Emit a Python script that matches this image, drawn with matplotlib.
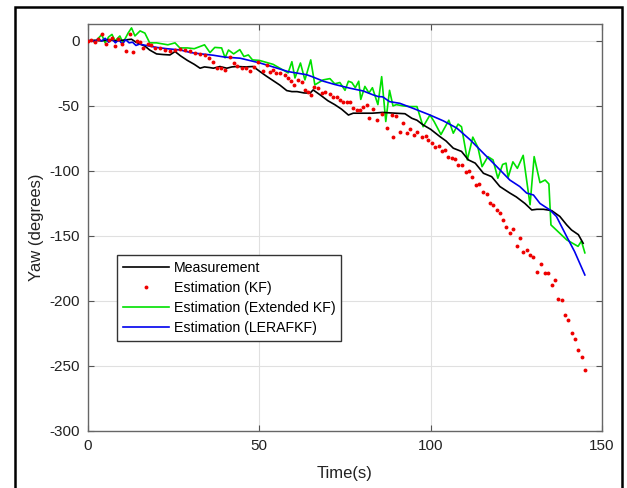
import matplotlib
matplotlib.use("Agg")
import matplotlib.pyplot as plt
from matplotlib.patches import Rectangle

plt.rcParams['font.family'] = ['Liberation Sans', 'DejaVu Sans']
plt.rcParams['axes.unicode_minus'] = False

# ---------------- data ----------------
meas_t = [0, 2, 4, 6, 8, 10, 12.7, 14, 16.6, 18, 20, 22, 23.9, 25.4, 27, 29, 31, 32.7, 34, 35.5,
          36.6, 38.5, 40.5, 42, 43.4, 46, 48.2, 50.2, 52, 54, 56, 58, 59.5, 61, 63, 64.8, 65.7, 68,
          70, 72, 74, 76, 77.4, 80, 83, 86, 89, 92.5, 94.5, 96, 97.8, 100, 102.7, 104.5, 106.6, 109,
          111, 113, 115.4, 117.8, 120.2, 123.1, 125, 127.5, 129.5, 131, 132.9, 135.3, 137.7, 139.7,
          141.1, 143.1, 144.5]
meas_y = [0, 0.5, 0, 1, 0, 0.5, 1.3, -1, -4, -7, -10, -10.5, -10.8, -8.2, -11.5, -15, -18, -21, -20,
          -20.5, -21, -19.7, -21, -20, -19.7, -20, -19.7, -23.6, -27, -30.5, -34, -38.2, -39, -39, -40,
          -40.2, -37.7, -42, -46, -49, -52.5, -57, -55.6, -55.6, -55.6, -55, -55.5, -56, -59.5, -61,
          -64.6, -68, -73.6, -77, -82.5, -85, -91.5, -94, -101.8, -104.4, -112, -117, -120, -125, -130,
          -129.5, -129.5, -130.5, -135, -141.5, -145.4, -149, -155.6]

kf_t = [0, 1, 2, 3, 4, 5.2, 6, 7, 8, 8.8, 10, 11.2, 12.2, 13.1, 14.2, 15.2, 16.1, 17.5, 18.5, 19.5,
        21, 22.5, 23.9, 25.4, 26.8, 28.3, 29.8, 31.2, 32.7, 34.1, 35.3, 36.4, 37.6, 38.8, 40, 41.4,
        42.5, 43.4, 44.8, 46, 47.3, 48.5, 49.7, 51, 52.1, 53, 54.1, 55, 56, 57.5, 58.4, 59.2, 60.1,
        61.4, 62.4, 63.3, 64.3, 65.2, 65.9, 67.2, 68.2, 69.2, 70.6, 71.6, 72.6, 73.6, 74.5, 75.5,
        76.5, 77.2, 78.4, 79.4, 80.3, 81.3, 82.1, 83.1, 84.2, 85.7, 87.2, 88.6, 89.1, 90, 91, 92,
        93.1, 94.1, 95, 95.9, 97.4, 98.6, 99.3, 100.3, 101.3, 102.5, 103.2, 104.2, 105.1, 106.1,
        107.1, 108.1, 109, 110.3, 111.3, 112.2, 113.2, 114.2, 115.4, 116.3, 117.3, 118.3, 119.3,
        120.2, 121.2, 122.1, 123.1, 124.1, 125.1, 126.1, 127, 128, 129, 130, 130.9, 132.1, 133.4,
        134.3, 135.3, 136.3, 137.2, 138.2, 139.2, 140.2, 141.1, 142.1, 143.1, 144.1, 145]
kf_y = [0, 0.5, -0.5, 1.5, 5, -2.3, 1, 2, -4.2, 1.5, -2, -7.5, 5, -8.6, 0, -0.6, -5.5, -2, -3.5, -5.4,
        -5.4, -6.7, -8, -6.7, -6, -6.7, -8, -9.2, -10, -10.5, -13, -16, -20.5, -21, -22, -12.6,
        -17, -19.3, -20.5, -21, -23.3, -20, -15.9, -23, -18.8, -24, -22.3, -25, -25, -26, -28.7, -31,
        -33.8, -30, -31.3, -38, -39.5, -41.5, -35.5, -36, -40, -39, -41, -43.5, -43.5, -45.5, -46.7,
        -46.7, -47, -51.5, -53, -53, -50.5, -49, -59.5, -52, -60.8, -56, -67, -57, -74, -57.5, -70,
        -63, -71, -67.5, -72, -69.7, -73.6, -73, -76, -78.7, -81.3, -80.8, -84.6, -83.8, -89, -90.3,
        -91, -95.4, -95.4, -100.5, -99.7, -104.8, -110.8, -110.3, -115.9, -117.7, -124.4, -126.2,
        -130, -132.6, -137.7, -143, -148, -145, -158, -151.8, -162, -160.8, -164.6, -166, -177.5,
        -171.5, -178.7, -178.7, -187.7, -183.8, -198.7, -199, -210.8, -214.6, -224.4, -229.5,
        -237.7, -243.3, -253]

ekf_t = [0, 1, 2, 3, 4, 5, 6, 7, 7.9, 9.3, 10.2, 11.7, 12.7, 13.7, 15.2, 16.6, 18, 20, 23.3, 25.4,
         26.8, 29, 31, 34, 35.6, 37, 39, 40, 41, 42.5, 44.3, 45.5, 46.8, 48, 50, 54, 58.4, 59.5, 60.4,
         62, 63.3, 65, 66.2, 68.6, 70.6, 72, 73.5, 75, 76, 77, 78, 79, 79.6, 80.8, 82, 83, 84.6,
         85.7, 86.9, 88, 89, 90, 92, 94, 96, 97.8, 99.8, 101, 103, 105.3, 106.6, 108, 109, 110.7,
         112.3, 113.8, 115, 116.7, 118.2, 119.6, 121, 122, 122.6, 124, 125.3, 127, 129, 130.2,
         131.9, 133.4, 134.5, 135.1, 139.7, 143, 144, 145]
ekf_y = [0, 0.5, -1, 2, 4.8, -1.5, 3, 5, 0, 3.8, -1.5, 6, 10, 3.8, 7.7, 6, -1.5, -1.5, -3, -1.5,
         -5.4, -5.4, -6, -3, -9, -5, -5.4, -13, -7, -10, -6.7, -12, -10.8, -14.6, -15, -18, -24.6,
         -16, -28.5, -17, -30, -14.6, -33.8, -30, -29, -33, -32, -38, -31, -32, -36, -31, -45, -35,
         -40, -36, -49, -27.5, -62, -38, -50, -49, -50, -50.5, -50.5, -66, -57, -62, -72, -61, -71,
         -64, -66, -91.5, -74, -82, -96.7, -89, -91.5, -105.6, -95, -94, -105, -93, -98, -88, -126,
         -89, -109, -107, -110, -141.5, -153, -158, -154, -163]

lera_t = [0, 1, 2, 3, 4, 5, 6, 7, 8, 9, 10, 11, 12, 13, 14, 15, 16, 18, 20, 23, 27, 30, 33, 36.5,
          40, 44.4, 50.2, 54, 58.4, 63.8, 65.3, 68.7, 72, 76.5, 80.3, 83.2, 84.7, 86, 88, 91, 95,
          99.8, 103.7, 107.6, 111.5, 115.4, 119.3, 123.1, 126, 128, 130, 131.9, 134.8, 136.7,
          139.7, 142, 145]
lera_y = [0, 0.5, -0.5, 1.5, 0, 2, -1, 1.5, -1.5, 1, -2.5, 1, -1.5, -1, -3.5, -2.5, -3, -4, -5,
          -6, -7, -9, -10, -11, -12.5, -13.3, -17, -20, -23.6, -26, -27.4, -31, -33.5, -36.4, -38.5,
          -41.5, -42.8, -43, -46.7, -48, -52, -57, -61.5, -67, -76, -86.4, -96.7, -107, -112, -117,
          -118.5, -125, -130, -135, -150.5, -162, -180]

series_labels = ['Measurement', 'Estimation (KF)', 'Estimation (Extended KF)', 'Estimation (LERAFKF)']
x_ticks = [0, 50, 100, 150]
y_ticks = [-300, -250, -200, -150, -100, -50, 0]

# ---------------- figure ----------------
fig = plt.figure(figsize=(6.27, 4.88), dpi=100)
ax = fig.add_axes([88/627, 1 - 431/488, (602 - 88)/627, (431 - 24)/488])

ax.plot(meas_t, meas_y, color='black', lw=1.2, label=series_labels[0], zorder=3)
ax.plot(kf_t, kf_y, linestyle='none', marker='o', ms=2.8, mew=0, color='#ee0000',
        label=series_labels[1], zorder=4)
ax.plot(ekf_t, ekf_y, color='#00e000', lw=1.2, label=series_labels[2], zorder=2)
ax.plot(lera_t, lera_y, color='#0000ee', lw=1.2, label=series_labels[3], zorder=3)

ax.set_xlim(0, 150)
ax.set_ylim(-300, 13)
ax.set_xticks(x_ticks)
ax.set_yticks(y_ticks)
ax.grid(True, color='#e0e0e0', lw=0.8)
ax.set_axisbelow(True)
ax.tick_params(direction='in', top=True, right=True, length=4, width=0.8,
               colors='#555555', labelcolor='#222222', labelsize=11, pad=6)
for s in ax.spines.values():
    s.set_color('#666666')
    s.set_linewidth(1.0)

ax.set_xlabel('Time(s)', fontsize=12, color='#222222')
ax.set_ylabel('Yaw (degrees)', fontsize=12, color='#222222')
ax.xaxis.set_label_coords(0.5, -0.085)
ax.yaxis.set_label_coords(-0.086, 0.5)

leg = ax.legend(loc='upper left', bbox_to_anchor=(117/627, 1 - 255/488),
                bbox_transform=fig.transFigure, fontsize=10.2, frameon=True,
                fancybox=False, edgecolor='#333333', framealpha=1,
                handlelength=3.3, handletextpad=0.3, labelspacing=0.43,
                borderpad=0.4, borderaxespad=0, numpoints=1)
leg.get_frame().set_linewidth(1.0)

fig.add_artist(Rectangle((15/627, -0.05), (622 - 15)/627, 1 - 7/488 + 0.05,
                         transform=fig.transFigure, fill=False, edgecolor='black',
                         lw=1.8, clip_on=False))

fig.savefig('out.png', dpi=100)
